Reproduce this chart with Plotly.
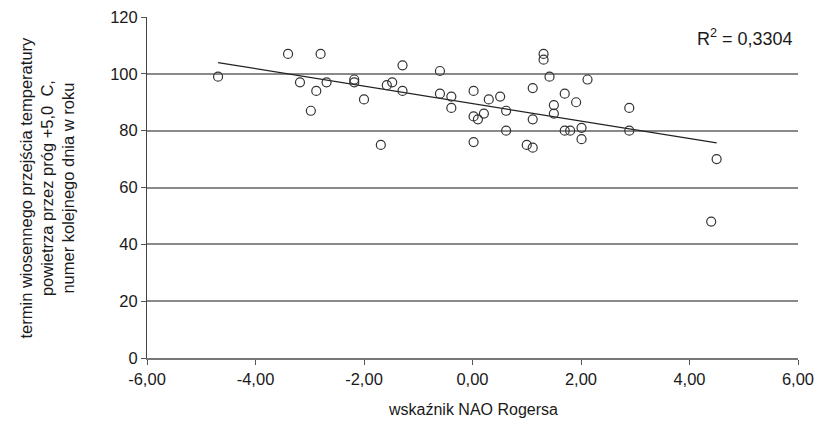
import numpy as np
import plotly.graph_objects as go

# NAO index (x) and spring +5.0 C threshold day-of-year (y)
nao = [-4.69, -3.40, -2.80, -3.18, -2.88, -2.69, -2.98, -2.18, -2.18, -2.00,
       -1.69, -1.58, -1.48, -1.29, -1.29, -0.60, -0.60, -0.39, -0.39, 0.02,
       0.02, 0.10, 0.21, 0.02, 0.30, 0.51, 0.62, 0.62, 1.00, 1.11,
       1.11, 1.11, 1.31, 1.31, 1.42, 1.50, 1.50, 1.70, 1.70, 1.80,
       1.91, 2.01, 2.01, 2.12, 2.89, 2.89, 4.50, 4.40]
day = [99, 107, 107, 97, 94, 97, 87, 98, 97, 91,
       75, 96, 97, 103, 94, 101, 93, 92, 88, 94,
       85, 84, 86, 76, 91, 92, 87, 80, 75, 74,
       95, 84, 107, 105, 99, 89, 86, 93, 80, 80,
       90, 81, 77, 98, 88, 80, 70, 48]

x_ticks = [-6, -4, -2, 0, 2, 4, 6]
x_tick_labels = ["-6,00", "-4,00", "-2,00", "0,00", "2,00", "4,00", "6,00"]
y_ticks = [0, 20, 40, 60, 80, 100, 120]
y_tick_labels = ["0", "20", "40", "60", "80", "100", "120"]
r2_label = "R<sup>2</sup> = 0,3304"
x_title = "wskaźnik NAO Rogersa"
y_title = ("termin wiosennego przejścia temperatury<br>"
           "powietrza przez próg +5,0\u00a0\u00a0C,<br>"
           "numer kolejnego dnia w roku")

slope, intercept = np.polyfit(nao, day, 1)
tx = [min(nao), max(nao)]
ty = [slope * v + intercept for v in tx]

FONT = "Liberation Sans, Arial, sans-serif"

fig = go.Figure()
fig.add_trace(go.Scatter(
    x=tx, y=ty, mode="lines",
    line=dict(color="#222222", width=1.2),
    hoverinfo="skip", showlegend=False))
fig.add_trace(go.Scatter(
    x=nao, y=day, mode="markers",
    marker=dict(symbol="circle-open", size=9,
                line=dict(color="#333333", width=1.2), color="#333333"),
    showlegend=False))

fig.update_layout(
    width=819, height=428,
    margin=dict(l=147, r=21, t=17, b=70),
    paper_bgcolor="white", plot_bgcolor="white",
    font=dict(family=FONT, size=16, color="#1a1a1a"),
    xaxis=dict(range=[-6, 6], tickvals=x_ticks, ticktext=x_tick_labels,
               automargin=False,
               showgrid=False, zeroline=False,
               showline=True, linecolor="#777777", linewidth=1.5,
               ticks="outside", ticklen=5, tickcolor="#555555",
               tickfont=dict(size=16.5)),
    yaxis=dict(range=[0, 120], tickvals=y_ticks, ticktext=y_tick_labels,
               automargin=False,
               showgrid=True, gridcolor="#8a8a8a", gridwidth=1.5,
               zeroline=False,
               showline=True, linecolor="#444444", linewidth=1,
               ticks="outside", ticklen=5, tickcolor="#555555",
               tickfont=dict(size=16.5)),
    annotations=[
        dict(text=r2_label, xref="paper", yref="paper", x=0.995, y=0.94,
             xanchor="right", yanchor="middle", showarrow=False,
             font=dict(size=18)),
        dict(text=x_title, xref="paper", yref="paper", x=0.5, y=-0.151,
             xanchor="center", yanchor="middle", showarrow=False,
             font=dict(size=16)),
        dict(text=y_title, xref="paper", yref="paper", x=-0.1536, y=0.5,
             xanchor="center", yanchor="middle", showarrow=False,
             textangle=-90, font=dict(size=16.5)),
    ],
)

fig.write_html("out.html",
               config={"displayModeBar": False},
               post_script="document.body.style.margin='0';")
